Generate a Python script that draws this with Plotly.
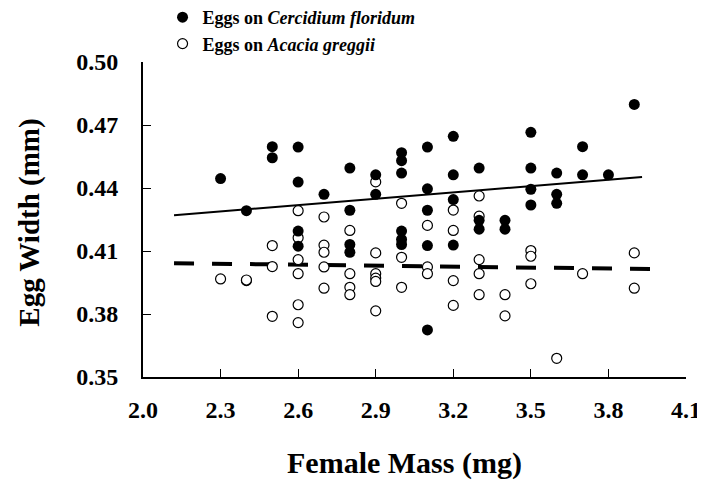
import plotly.graph_objects as go

# Eggs on Cercidium floridum (filled)
cerc_mass = [2.3, 2.4, 2.5, 2.5, 2.6, 2.6, 2.6, 2.6, 2.7, 2.8, 2.8, 2.8, 2.8,
             2.9, 2.9, 3.0, 3.0, 3.0, 3.0, 3.0, 3.0, 3.1, 3.1, 3.1, 3.1, 3.1,
             3.2, 3.2, 3.2, 3.2, 3.3, 3.3, 3.3, 3.4, 3.4, 3.5, 3.5, 3.5, 3.5,
             3.6, 3.6, 3.6, 3.7, 3.7, 3.8, 3.9]
cerc_width = [0.4445, 0.4292, 0.4597, 0.4544, 0.4595, 0.4428, 0.4195, 0.4123, 0.4370,
              0.4495, 0.4294, 0.4131, 0.4094, 0.4463, 0.4370, 0.4568, 0.4530, 0.4471,
              0.4195, 0.4155, 0.4131, 0.4595, 0.4396, 0.4294, 0.4126, 0.3724,
              0.4646, 0.4463, 0.4345, 0.4128, 0.4495, 0.4246, 0.4204, 0.4246, 0.4204,
              0.4665, 0.4495, 0.4394, 0.4319, 0.4471, 0.4370, 0.4327, 0.4597, 0.4463,
              0.4463, 0.4798]

# Eggs on Acacia greggii (open)
acac_mass = [2.3, 2.4, 2.4, 2.5, 2.5, 2.5, 2.6, 2.6, 2.6, 2.6, 2.6, 2.6,
             2.7, 2.7, 2.7, 2.7, 2.7, 2.8, 2.8, 2.8, 2.8, 2.9, 2.9, 2.9, 2.9, 2.9, 2.9,
             3.0, 3.0, 3.0, 3.1, 3.1, 3.1, 3.2, 3.2, 3.2, 3.2, 3.3, 3.3, 3.3, 3.3, 3.3,
             3.4, 3.4, 3.5, 3.5, 3.5, 3.6, 3.7, 3.9, 3.9]
acac_width = [0.3967, 0.3959, 0.3962, 0.4126, 0.4026, 0.3789, 0.4292, 0.4163, 0.4059,
              0.3992, 0.3844, 0.3759, 0.4262, 0.4128, 0.4094, 0.4024, 0.3923,
              0.4198, 0.3992, 0.3927, 0.3892, 0.4429, 0.4091, 0.3992, 0.3971, 0.3955,
              0.3815, 0.4327, 0.4070, 0.3927, 0.4222, 0.4024, 0.3992, 0.4295, 0.4198,
              0.3959, 0.3841, 0.4362, 0.4266, 0.4059, 0.3992, 0.3892, 0.3892, 0.3791,
              0.4102, 0.4075, 0.3944, 0.3589, 0.3992, 0.4091, 0.3923]

# Regression line end points
cerc_fit_x = [2.12, 3.93]
cerc_fit_y = [0.4270, 0.4452]
acac_fit_x = [2.12, 3.97]
acac_fit_y = [0.4042, 0.4014]

x_ticks = [2.0, 2.3, 2.6, 2.9, 3.2, 3.5, 3.8, 4.1]
y_ticks = [0.35, 0.38, 0.41, 0.44, 0.47, 0.50]

FONT = "Liberation Serif"

fig = go.Figure()
fig.add_trace(go.Scatter(x=cerc_fit_x, y=cerc_fit_y, mode="lines",
                         line=dict(color="black", width=2), showlegend=False,
                         hoverinfo="skip"))
fig.add_trace(go.Scatter(x=acac_fit_x, y=acac_fit_y, mode="lines",
                         line=dict(color="black", width=4, dash="20px,18px"),
                         showlegend=False, hoverinfo="skip"))
fig.add_trace(go.Scatter(x=acac_mass, y=acac_width, mode="markers",
                         name="<b>Eggs on <i>Acacia greggii</i></b>",
                         legendrank=2,
                         marker=dict(symbol="circle", size=10, color="white",
                                     line=dict(color="black", width=1.2))))
fig.add_trace(go.Scatter(x=cerc_mass, y=cerc_width, mode="markers",
                         name="<b>Eggs on <i>Cercidium floridum</i></b>",
                         legendrank=1,
                         marker=dict(symbol="circle", size=11, color="black",
                                     line=dict(color="black", width=0))))

fig.update_layout(
    width=697, height=477,
    margin=dict(l=135, r=19, t=54, b=108, autoexpand=False),
    paper_bgcolor="white", plot_bgcolor="white",
    font=dict(family=FONT, color="black"),
    showlegend=True,
    legend=dict(x=0.036, y=1.2, xanchor="left", yanchor="top",
                font=dict(family=FONT, size=18, color="black"),
                itemwidth=30, tracegroupgap=0, bgcolor="rgba(0,0,0,0)"),
    xaxis=dict(range=[2.0, 4.1], tickvals=x_ticks, tickformat=".1f",
               ticks="inside", ticklen=8, tickwidth=1, tickcolor="black",
               showline=True, linecolor="black", linewidth=2,
               showgrid=False, zeroline=False, ticklabelstandoff=10,
               tickfont=dict(family=FONT, size=24, color="black", weight="bold")),
    yaxis=dict(range=[0.35, 0.50], tickvals=y_ticks, tickformat=".2f",
               ticks="inside", ticklen=8, tickwidth=1, tickcolor="black",
               showline=True, linecolor="black", linewidth=2,
               showgrid=False, zeroline=False, ticklabelstandoff=18,
               tickfont=dict(family=FONT, size=24, color="black", weight="bold")),
    annotations=[
        dict(text="<b>Female Mass (mg)</b>", xref="paper", yref="paper",
             x=0.482, y=-0.273, xanchor="center", yanchor="middle", showarrow=False,
             font=dict(family=FONT, size=30, color="black")),
        dict(text="<b>Egg Width (mm)</b>", xref="paper", yref="paper",
             x=-0.208, y=0.49, xanchor="center", yanchor="middle",
             textangle=-90, showarrow=False,
             font=dict(family=FONT, size=29, color="black")),
    ],
)

fig.write_html("out.html")
